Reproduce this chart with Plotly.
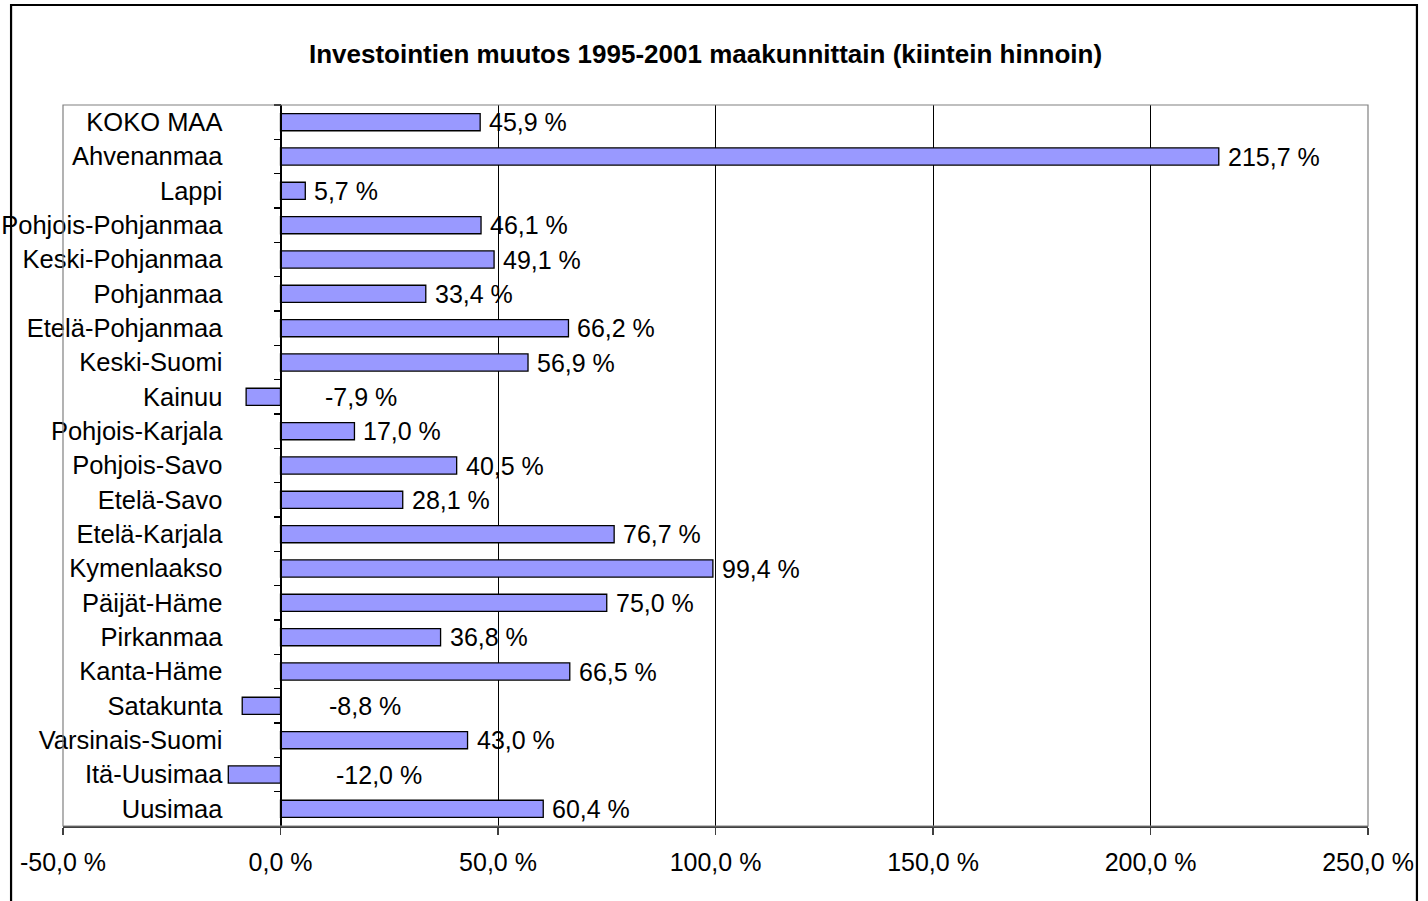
import plotly.graph_objects as go

categories = ["KOKO MAA", "Ahvenanmaa", "Lappi", "Pohjois-Pohjanmaa", "Keski-Pohjanmaa",
              "Pohjanmaa", "Etelä-Pohjanmaa", "Keski-Suomi", "Kainuu", "Pohjois-Karjala",
              "Pohjois-Savo", "Etelä-Savo", "Etelä-Karjala", "Kymenlaakso", "Päijät-Häme",
              "Pirkanmaa", "Kanta-Häme", "Satakunta", "Varsinais-Suomi", "Itä-Uusimaa", "Uusimaa"]
values = [45.9, 215.7, 5.7, 46.1, 49.1, 33.4, 66.2, 56.9, -7.9, 17.0, 40.5, 28.1,
          76.7, 99.4, 75.0, 36.8, 66.5, -8.8, 43.0, -12.0, 60.4]
x_tickvals = [-50, 0, 50, 100, 150, 200, 250]
x_ticktext = ["-50,0 %", "0,0 %", "50,0 %", "100,0 %", "150,0 %", "200,0 %", "250,0 %"]
title_text = "Investointien muutos 1995-2001 maakunnittain (kiintein hinnoin)"

FONT = "Liberation Sans, Arial, sans-serif"
W, H = 1428, 901


def fmt(v):
    return f"{v:.1f}".replace(".", ",") + " %"


fig = go.Figure()
fig.add_trace(go.Bar(
    y=categories, x=values, orientation="h",
    marker=dict(color="#9999FF", line=dict(color="black", width=1.3)),
    hoverinfo="skip",
))

annotations = []
for c, v in zip(categories, values):
    if v >= 0:
        annotations.append(dict(x=v, y=c, xref="x", yref="y", text=fmt(v), showarrow=False,
                                xanchor="left", xshift=7, font=dict(family=FONT, size=25, color="black")))
    else:
        annotations.append(dict(x=-v, y=c, xref="x", yref="y", text=fmt(v), showarrow=False,
                                xanchor="center", xshift=46, font=dict(family=FONT, size=25, color="black")))

shapes = [
    # plot area border
    dict(type="rect", xref="paper", yref="paper", x0=0, x1=1, y0=0, y1=1,
         line=dict(color="#808080", width=1.2), layer="above"),
    # outer chart frame
    dict(type="rect", xref="paper", yref="paper", x0=-0.0398, x1=1.0375, y0=-0.12, y1=1.1387,
         line=dict(color="black", width=2.2), layer="above"),
]

fig.update_layout(
    width=W, height=H,
    margin=dict(l=63, r=60, t=105, b=75, autoexpand=False),
    paper_bgcolor="white", plot_bgcolor="white",
    showlegend=False,
    bargap=0.5,
    title=dict(text=f"<b>{title_text}</b>", x=705.5 / W, xanchor="center", y=1 - 54 / H,
               yanchor="middle", font=dict(family=FONT, size=26, color="black")),
    annotations=annotations,
    shapes=shapes,
    font=dict(family=FONT, size=25, color="black"),
)

fig.update_xaxes(
    range=[-50, 250], tickvals=x_tickvals, ticktext=x_ticktext,
    showgrid=True, gridcolor="black", gridwidth=1,
    zeroline=False, automargin=False,
    showline=True, linecolor="#404040", linewidth=1.5,
    ticks="outside", ticklen=7, tickcolor="#404040", tickwidth=1.2,
    ticklabelstandoff=6,
    tickfont=dict(family=FONT, size=25, color="black"),
)
fig.update_yaxes(
    type="category", categoryorder="array", categoryarray=categories,
    autorange=False, range=[len(categories) - 0.5, -0.5],
    anchor="free", position=50 / 300, automargin=False,
    showline=True, linecolor="black", linewidth=1.3,
    ticks="outside", ticklen=7, tickcolor="black", tickwidth=1.2, tickson="boundaries",
    showgrid=False, zeroline=False,
    ticklabelstandoff=53,
    tickfont=dict(family=FONT, size=25.5, color="black"),
)

fig.write_html("out.html", config={"displayModeBar": False, "staticPlot": True},
               post_script="document.body.style.margin='0';document.body.style.overflow='hidden';")
